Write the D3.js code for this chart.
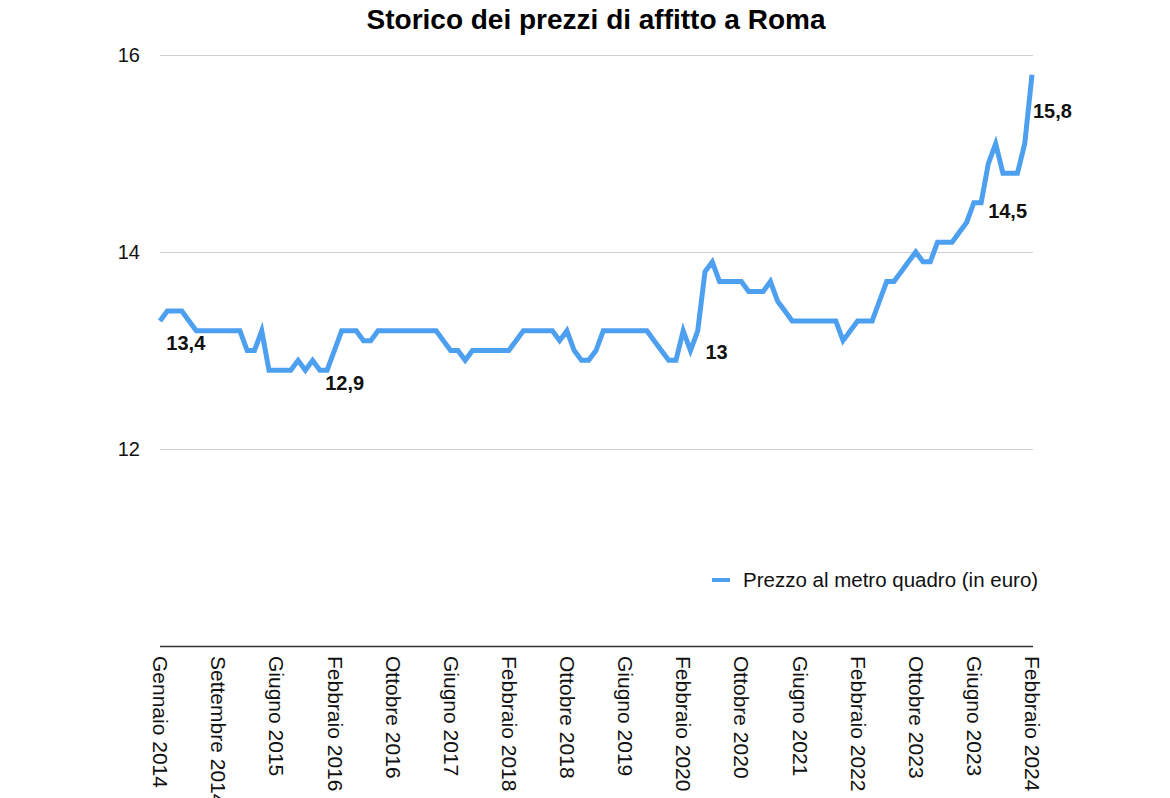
<!DOCTYPE html>
<html>
<head>
<meta charset="utf-8">
<script src="https://cdn.jsdelivr.net/npm/d3@7"></script>
<style>
  html, body { margin: 0; padding: 0; background: #fff; }
  svg { display: block; }
  text { font-family: "Liberation Sans", Arial, Helvetica, sans-serif; }
</style>
</head>
<body>
<svg id="chart" width="1170" height="798"></svg>
<script>
// ---- data ----
const title = "Storico dei prezzi di affitto a Roma";
const seriesName = "Prezzo al metro quadro (in euro)";
const prices = [
  13.3, 13.4, 13.4, 13.4, 13.3, 13.2, 13.2, 13.2, 13.2, 13.2,
  13.2, 13.2, 13.0, 13.0, 13.2, 12.8, 12.8, 12.8, 12.8, 12.9,
  12.8, 12.9, 12.8, 12.8, 13.0, 13.2, 13.2, 13.2, 13.1, 13.1,
  13.2, 13.2, 13.2, 13.2, 13.2, 13.2, 13.2, 13.2, 13.2, 13.1,
  13.0, 13.0, 12.9, 13.0, 13.0, 13.0, 13.0, 13.0, 13.0, 13.1,
  13.2, 13.2, 13.2, 13.2, 13.2, 13.1, 13.2, 13.0, 12.9, 12.9,
  13.0, 13.2, 13.2, 13.2, 13.2, 13.2, 13.2, 13.2, 13.1, 13.0,
  12.9, 12.9, 13.2, 13.0, 13.2, 13.8, 13.9, 13.7, 13.7, 13.7,
  13.7, 13.6, 13.6, 13.6, 13.7, 13.5, 13.4, 13.3, 13.3, 13.3,
  13.3, 13.3, 13.3, 13.3, 13.1, 13.2, 13.3, 13.3, 13.3, 13.5,
  13.7, 13.7, 13.8, 13.9, 14.0, 13.9, 13.9, 14.1, 14.1, 14.1,
  14.2, 14.3, 14.5, 14.5, 14.9, 15.1, 14.8, 14.8, 14.8, 15.1,
  15.8
];
const tickLabels = [
  "Gennaio 2014", "Settembre 2014", "Giugno 2015", "Febbraio 2016",
  "Ottobre 2016", "Giugno 2017", "Febbraio 2018", "Ottobre 2018",
  "Giugno 2019", "Febbraio 2020", "Ottobre 2020", "Giugno 2021",
  "Febbraio 2022", "Ottobre 2023", "Giugno 2023", "Febbraio 2024"
];
const tickStep = 8;
const yTicks = [12, 14, 16];
const valueLabels = [
  { index: 3, text: "13,4" },
  { index: 25, text: "12,9" },
  { index: 73, text: "13" },
  { index: 113, text: "14,5" },
  { index: 120, text: "15,8" }
];

// ---- layout ----
(function () {
const svg = d3.select("#chart");
const mLeft = 160, mRight = 1032, mTop = 55, mBottom = 646;

const x = d3.scaleLinear().domain([0, prices.length - 1]).range([mLeft, mRight]);
const y = d3.scaleLinear().domain([10, 16]).range([mBottom, mTop]);

// title
svg.append("text")
  .attr("x", 596).attr("y", 29)
  .attr("text-anchor", "middle")
  .style("font-size", "28px").style("font-weight", "bold")
  .text(title);

// gridlines + y labels
const yAxis = d3.axisLeft(y).tickValues(yTicks).tickSize(-(mRight - mLeft + 1)).tickPadding(20)
  .tickFormat(d3.format("d"));
const gy = svg.append("g").attr("transform", `translate(${mLeft},0)`).call(yAxis);
gy.select(".domain").remove();
gy.selectAll(".tick line").attr("stroke", "#cfcfcf").attr("stroke-width", 1);
gy.selectAll(".tick text").style("font-size", "20px").attr("fill", "#111")
  .attr("font-family", "Liberation Sans, Arial, sans-serif");

// x axis
const tickIdx = tickLabels.map((_, i) => i * tickStep);
const xAxis = d3.axisBottom(x).tickValues(tickIdx).tickSize(0)
  .tickFormat((d, i) => tickLabels[i]);
const gx = svg.append("g").attr("transform", `translate(0,${mBottom})`).call(xAxis);
gx.select(".domain").attr("stroke", "#333").attr("stroke-width", 1.6)
  .attr("d", `M${mLeft},0.5H${mRight + 1}`);
gx.selectAll(".tick text")
  .style("font-size", "21px").attr("fill", "#111")
  .attr("font-family", "Liberation Sans, Arial, sans-serif")
  .attr("text-anchor", "start")
  .attr("transform", "rotate(90)")
  .attr("x", 10).attr("y", 0).attr("dy", "0.35em");

// line
const line = d3.line().x((d, i) => x(i)).y(d => y(d));
svg.append("path")
  .datum(prices)
  .attr("fill", "none")
  .attr("stroke", "#4d9ff0")
  .attr("stroke-width", 5)
  .attr("stroke-linejoin", "miter")
  .attr("d", line);

// value labels (offsets from their point, px)
const labelOffsets = { 3: [4, 39, "middle"], 25: [3, 59, "middle"], 73: [15, 8, "start"],
                       113: [7, 15, "start"], 120: [1, 43, "start"] };
svg.selectAll(".vlabel").data(valueLabels).enter().append("text")
  .attr("class", "vlabel")
  .attr("x", d => x(d.index) + labelOffsets[d.index][0])
  .attr("y", d => y(prices[d.index]) + labelOffsets[d.index][1])
  .attr("text-anchor", d => labelOffsets[d.index][2])
  .style("font-size", "20px").style("font-weight", "bold").attr("fill", "#111")
  .text(d => d.text);

// legend
svg.append("line").attr("x1", 712).attr("x2", 730).attr("y1", 580).attr("y2", 580)
  .attr("stroke", "#4d9ff0").attr("stroke-width", 4);
svg.append("text").attr("x", 743).attr("y", 580).attr("dy", "0.35em")
  .style("font-size", "20.5px").attr("fill", "#111").text(seriesName);
})();
</script>
</body>
</html>
